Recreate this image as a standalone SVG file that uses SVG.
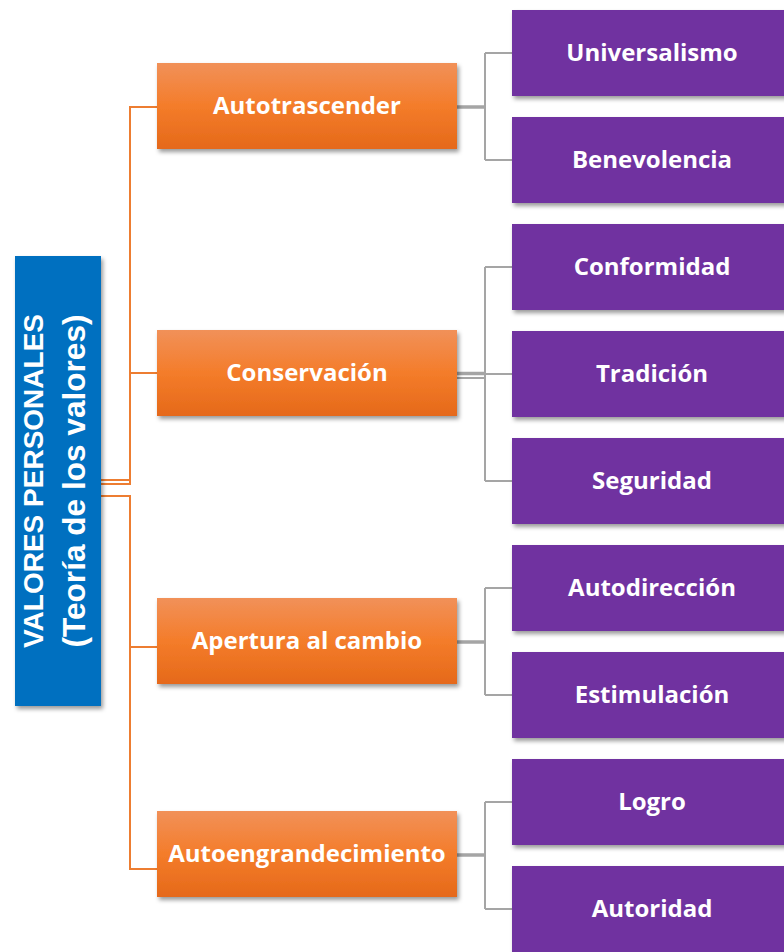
<svg xmlns="http://www.w3.org/2000/svg" width="784" height="952" viewBox="0 0 784 952">
<defs>
<linearGradient id="og" x1="0" y1="0" x2="0" y2="1">
<stop offset="0" stop-color="#F19159"/>
<stop offset="0.5" stop-color="#F47C2A"/>
<stop offset="1" stop-color="#E5691A"/>
</linearGradient>
<filter id="sh" x="-10%" y="-10%" width="130%" height="140%">
<feDropShadow dx="2" dy="3" stdDeviation="2" flood-color="#000" flood-opacity="0.4"/>
</filter>
<style>
.root{fill:#0070C0;filter:url(#sh)}
.cat{fill:url(#og);filter:url(#sh)}
.leaf{fill:#7030A0;filter:url(#sh)}
.t{font-family:"Open Sans","Liberation Sans",sans-serif;font-weight:bold;font-size:24px;fill:#fff;text-anchor:middle}
.rt{font-family:"Liberation Sans",Arial,sans-serif;font-weight:bold;font-size:28px;fill:#fff;text-anchor:middle}
.oc{fill:none;stroke:#ED7D31;stroke-width:2}
.gc{fill:none;stroke:#A5A5A5;stroke-width:2}
.gp{fill:none;stroke:#A5A5A5;stroke-width:3.5}
</style>
</defs>
<rect width="784" height="952" fill="#fff"/>
<g id="connectors">
<path class="oc" d="M101,480 H130 V107 H157"/>
<path class="oc" d="M101,484 H130 V373 H157"/>
<path class="oc" d="M101,496 H130 V647 H157"/>
<path class="oc" d="M101,496 H130 V869 H157"/>
<path class="gp" d="M457,107 H485"/>
<path class="gc" d="M485,53 V160 M485,53 H512 M485,160 H512"/>
<path class="gp" d="M457,373.5 H485"/>
<path class="gc" d="M457,378 H485"/>
<path class="gc" d="M485,267 V481 M485,267 H512 M485,374 H512 M485,481 H512"/>
<path class="gp" d="M457,642 H485"/>
<path class="gc" d="M485,588 V695 M485,588 H512 M485,695 H512"/>
<path class="gp" d="M457,855 H485"/>
<path class="gc" d="M485,802 V909 M485,802 H512 M485,909 H512"/>
</g>
<g id="root">
<rect class="root" x="15" y="256" width="86" height="450"/>
<text class="rt" transform="translate(43,481) rotate(-90)">VALORES PERSONALES</text>
<text class="rt" transform="translate(85,481) rotate(-90)" style="font-size:31px" textLength="333" lengthAdjust="spacingAndGlyphs">(Teoría de los valores)</text>
</g>
<g id="autotrascender">
<rect class="cat" x="157" y="63" width="300" height="86"/>
<text class="t" x="307" y="114">Autotrascender</text>
</g>
<g id="conservacion">
<rect class="cat" x="157" y="330" width="300" height="86"/>
<text class="t" x="307" y="381">Conservación</text>
</g>
<g id="apertura">
<rect class="cat" x="157" y="598" width="300" height="86"/>
<text class="t" x="307" y="649">Apertura al cambio</text>
</g>
<g id="autoengrandecimiento">
<rect class="cat" x="157" y="811" width="300" height="86"/>
<text class="t" x="307" y="862">Autoengrandecimiento</text>
</g>
<g id="universalismo">
<rect class="leaf" x="512" y="10" width="280" height="86"/>
<text class="t" x="652" y="61">Universalismo</text>
</g>
<g id="benevolencia">
<rect class="leaf" x="512" y="117" width="280" height="86"/>
<text class="t" x="652" y="168">Benevolencia</text>
</g>
<g id="conformidad">
<rect class="leaf" x="512" y="224" width="280" height="86"/>
<text class="t" x="652" y="275">Conformidad</text>
</g>
<g id="tradicion">
<rect class="leaf" x="512" y="331" width="280" height="86"/>
<text class="t" x="652" y="382">Tradición</text>
</g>
<g id="seguridad">
<rect class="leaf" x="512" y="438" width="280" height="86"/>
<text class="t" x="652" y="489">Seguridad</text>
</g>
<g id="autodireccion">
<rect class="leaf" x="512" y="545" width="280" height="86"/>
<text class="t" x="652" y="596">Autodirección</text>
</g>
<g id="estimulacion">
<rect class="leaf" x="512" y="652" width="280" height="86"/>
<text class="t" x="652" y="703">Estimulación</text>
</g>
<g id="logro">
<rect class="leaf" x="512" y="759" width="280" height="86"/>
<text class="t" x="652" y="810">Logro</text>
</g>
<g id="autoridad">
<rect class="leaf" x="512" y="866" width="280" height="86"/>
<text class="t" x="652" y="917">Autoridad</text>
</g>
</svg>
